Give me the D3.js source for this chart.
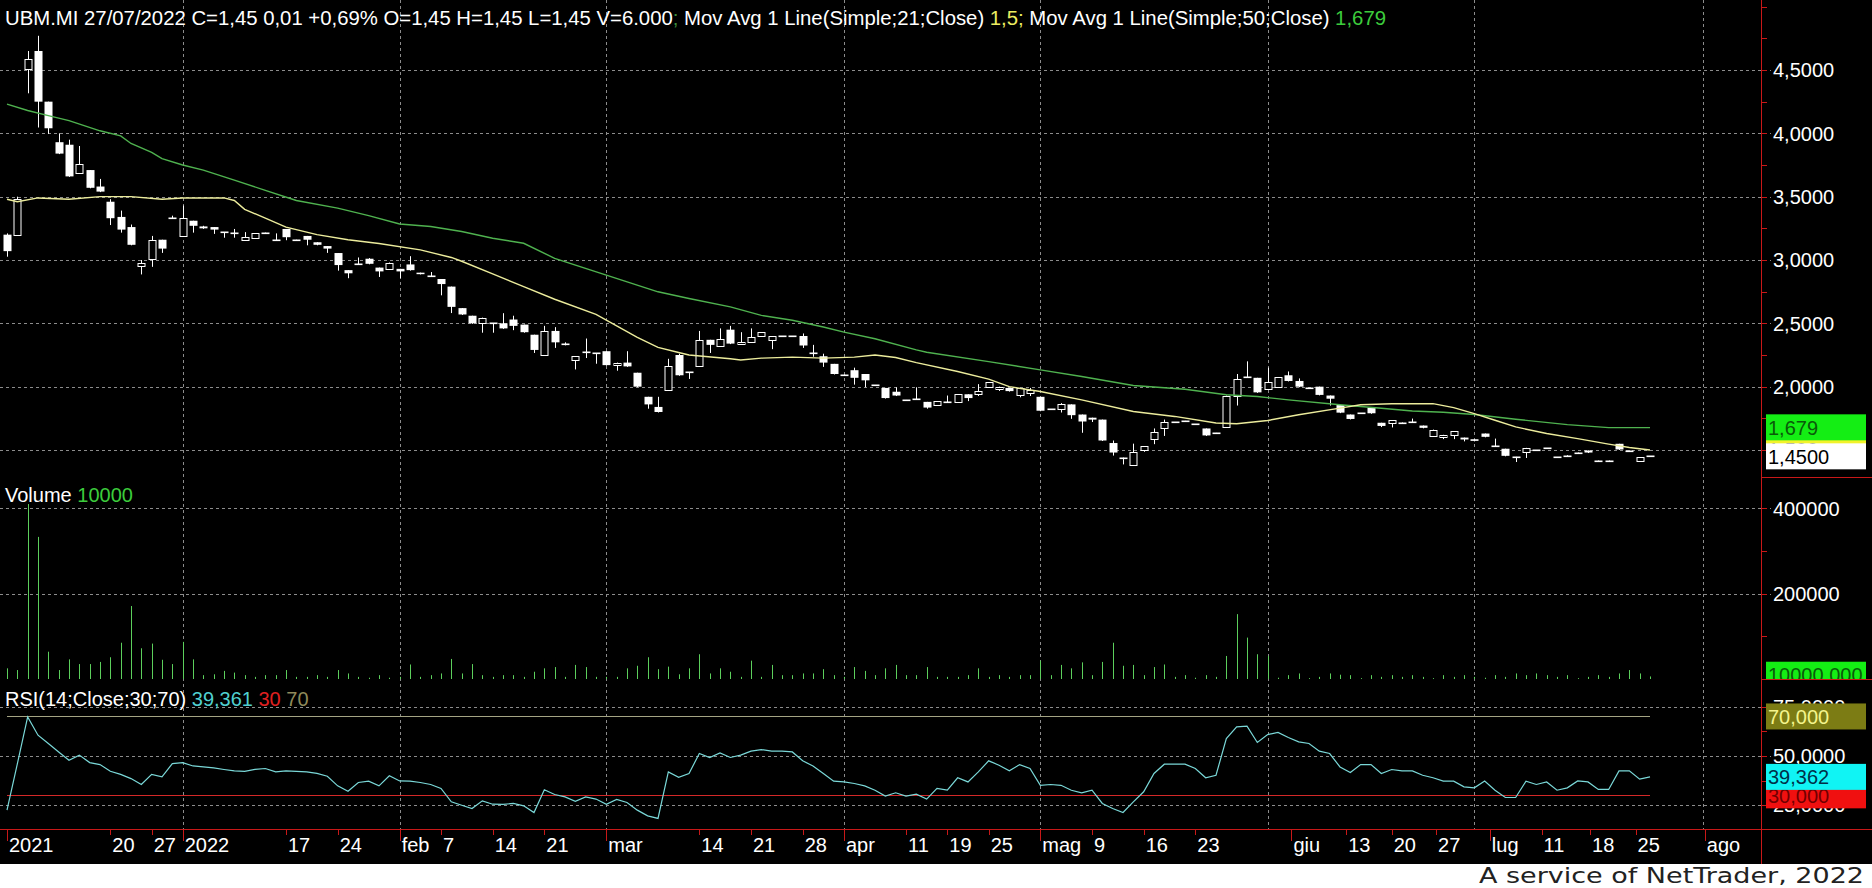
<!DOCTYPE html>
<html><head><meta charset="utf-8">
<script src="https://cdn.jsdelivr.net/npm/d3@7"></script>
<style>
html,body{margin:0;padding:0;background:#000;overflow:hidden}
svg{display:block}
text{font-family:"Liberation Sans",Arial,sans-serif;font-size:20px}
</style></head><body>
<svg id="c" width="1872" height="888"></svg>
<script>
// ---- data ----
const opens  = [3.20,3.20,4.51,4.65,4.25,3.93,3.91,3.69,3.71,3.58,3.46,3.34,3.26,2.95,3.01,3.16,3.33,3.19,3.31,3.265,3.26,3.22,3.21,3.16,3.17,3.21,3.16,3.245,3.16,3.19,3.14,3.11,3.055,2.92,2.965,3.01,2.94,2.93,2.93,2.965,2.90,2.87,2.85,2.79,2.62,2.56,2.50,2.50,2.50,2.53,2.49,2.41,2.25,2.44,2.335,2.21,2.27,2.265,2.28,2.17,2.19,2.11,1.92,1.84,1.97,2.25,2.115,2.16,2.37,2.32,2.45,2.34,2.35,2.40,2.365,2.40,2.40,2.40,2.265,2.24,2.18,2.095,2.13,2.10,2.01,1.99,1.96,1.895,1.905,1.88,1.855,1.88,1.88,1.94,1.945,2.00,1.985,1.99,1.935,1.95,1.92,1.82,1.825,1.86,1.78,1.755,1.74,1.555,1.44,1.38,1.50,1.59,1.67,1.72,1.73,1.705,1.67,1.635,1.68,1.93,2.08,2.07,1.985,2.00,2.09,2.045,1.99,2.00,1.93,1.855,1.78,1.79,1.835,1.715,1.717,1.717,1.722,1.693,1.612,1.60,1.62,1.598,1.585,1.63,1.53,1.51,1.446,1.483,1.499,1.514,1.443,1.449,1.48,1.496,1.417,1.417,1.549,1.496,1.412,1.45];
const highs  = [3.21,3.50,4.65,4.77,4.25,4.00,3.95,3.90,3.71,3.64,3.48,3.39,3.28,3.00,3.19,3.16,3.35,3.43,3.31,3.27,3.26,3.22,3.245,3.22,3.21,3.216,3.21,3.245,3.16,3.19,3.14,3.11,3.055,2.92,3.02,3.015,2.94,2.98,2.93,3.03,2.90,2.905,2.85,2.79,2.62,2.56,2.545,2.50,2.58,2.56,2.49,2.41,2.48,2.47,2.35,2.24,2.38,2.265,2.28,2.19,2.28,2.11,1.92,1.92,2.22,2.26,2.115,2.44,2.37,2.46,2.48,2.43,2.46,2.43,2.40,2.40,2.40,2.42,2.33,2.26,2.18,2.095,2.15,2.10,2.01,1.99,1.995,1.895,1.995,1.88,1.886,1.93,1.94,1.94,2.02,2.035,2.00,1.99,1.99,1.99,1.92,1.82,1.87,1.86,1.78,1.755,1.74,1.575,1.44,1.55,1.53,1.67,1.74,1.72,1.73,1.705,1.67,1.635,1.93,2.10,2.20,2.07,2.15,2.075,2.12,2.065,1.99,2.00,1.93,1.855,1.78,1.79,1.835,1.715,1.735,1.717,1.748,1.693,1.661,1.62,1.65,1.598,1.585,1.63,1.59,1.51,1.446,1.517,1.499,1.514,1.443,1.459,1.48,1.496,1.417,1.417,1.549,1.496,1.441,1.45];
const lows   = [3.03,3.20,4.32,4.05,4.00,3.84,3.66,3.69,3.57,3.54,3.28,3.22,3.12,2.89,2.95,3.06,3.33,3.19,3.22,3.25,3.21,3.18,3.18,3.16,3.17,3.21,3.16,3.16,3.16,3.12,3.12,3.06,2.92,2.86,2.965,2.97,2.87,2.93,2.86,2.92,2.89,2.87,2.725,2.585,2.57,2.50,2.43,2.43,2.46,2.45,2.43,2.27,2.25,2.31,2.33,2.14,2.23,2.185,2.17,2.13,2.16,2.00,1.83,1.80,1.97,2.09,2.065,2.16,2.27,2.32,2.34,2.34,2.35,2.40,2.30,2.40,2.40,2.31,2.24,2.16,2.10,2.095,2.02,2.00,2.01,1.91,1.93,1.895,1.905,1.83,1.855,1.88,1.88,1.89,1.93,2.00,1.97,1.965,1.92,1.93,1.81,1.82,1.80,1.75,1.64,1.725,1.575,1.46,1.39,1.38,1.49,1.55,1.615,1.72,1.73,1.705,1.615,1.635,1.68,1.855,2.08,1.955,1.985,2.00,2.045,2.00,1.99,1.935,1.855,1.795,1.745,1.79,1.79,1.685,1.682,1.717,1.722,1.675,1.612,1.59,1.59,1.572,1.572,1.604,1.53,1.454,1.409,1.441,1.499,1.514,1.443,1.449,1.48,1.48,1.417,1.417,1.504,1.496,1.412,1.45];
const closes = [3.07,3.48,4.59,4.25,4.04,3.84,3.66,3.76,3.57,3.54,3.33,3.24,3.12,2.98,3.16,3.09,3.33,3.33,3.27,3.25,3.24,3.22,3.21,3.18,3.21,3.21,3.16,3.18,3.16,3.16,3.12,3.09,2.96,2.895,2.965,2.97,2.91,2.98,2.91,2.92,2.89,2.87,2.81,2.63,2.57,2.50,2.545,2.50,2.46,2.48,2.43,2.29,2.44,2.35,2.335,2.24,2.27,2.265,2.17,2.19,2.16,2.00,1.86,1.80,2.16,2.09,2.115,2.37,2.33,2.38,2.34,2.355,2.39,2.43,2.40,2.40,2.40,2.325,2.265,2.19,2.10,2.095,2.07,2.05,2.01,1.91,1.93,1.895,1.905,1.835,1.886,1.88,1.94,1.91,1.965,2.035,2.00,1.965,1.99,1.97,1.81,1.82,1.86,1.775,1.725,1.74,1.575,1.48,1.44,1.485,1.53,1.64,1.72,1.72,1.73,1.705,1.615,1.635,1.93,2.06,2.08,1.955,2.035,2.075,2.045,2.00,1.99,1.935,1.905,1.795,1.745,1.79,1.79,1.69,1.735,1.717,1.722,1.675,1.661,1.62,1.65,1.583,1.572,1.604,1.53,1.454,1.446,1.517,1.499,1.514,1.443,1.449,1.48,1.48,1.417,1.417,1.504,1.496,1.441,1.45];
const volumes = [25000,21000,410000,333000,64000,21000,46000,35000,35000,40000,51000,85000,171000,72000,83000,45000,35000,87000,46000,9000,11000,19000,15000,9000,5000,9000,9000,21000,5000,5000,9000,5000,21000,13000,5000,3000,9000,3000,5000,34000,5000,9000,13000,47000,13000,35000,9000,5000,9000,9000,5000,17000,25000,28000,5000,33000,28000,5000,5000,5000,25000,31000,51000,23000,29000,11000,25000,58000,13000,25000,17000,5000,43000,5000,33000,9000,9000,13000,13000,23000,9000,5000,28000,19000,9000,25000,33000,9000,9000,28000,5000,5000,5000,9000,25000,5000,9000,5000,9000,9000,43000,9000,33000,25000,39000,9000,40000,85000,31000,33000,9000,28000,34000,5000,9000,3000,9000,5000,54000,152000,97000,58000,54000,3000,9000,13000,2000,5000,13000,10000,9000,2000,9000,5000,9000,5000,9000,5000,2000,9000,5000,9000,5000,3000,9000,5000,13000,9000,13000,9000,5000,9000,2000,5000,9000,5000,13000,21000,13000,6000];
const rsiValues = [22.5,46,69.8,60.5,56.3,52,47.8,50.4,46.6,45.6,42.2,40.6,38.5,35.5,40.6,39.4,46.1,46.6,44.9,44.4,43.9,43.1,42.4,42.2,43.2,43.6,41.9,42.4,42.2,41.9,41.1,39.7,34.8,32.1,36.5,37.2,34.8,39.9,37.3,37.2,36.5,35.5,33.5,26.7,25,23.3,27.2,25.5,25.4,25.9,24.7,21.3,32.8,30.4,29.2,27,29.2,28.1,25.5,27.9,26.4,22.5,19.6,18.3,41.9,39.1,41.1,51.2,49.2,51.5,49.2,50.4,52.4,53.2,52.4,52.4,52,47.5,44.9,41.1,37.2,36.8,36,34.8,32.6,29.6,31.3,29.6,30.6,28.1,33.5,32.6,38.9,36.8,41.9,47.5,45.3,42.4,45.6,43.6,35.1,35.5,35.1,32.6,31.3,32.6,25.9,23.3,21.3,26.7,31.8,41.1,45.8,45.8,45.8,43.6,38.9,40.2,58.8,64.7,65.1,56.8,60.8,61.9,59.3,57.1,56.3,52.4,51.2,44.4,41.6,45.6,45.6,41.1,43.1,42.4,42.4,40.2,38.9,37.2,37.2,34.3,33.8,37.3,32.6,28.9,28.9,37.2,35.5,36.8,32.6,33.8,37.3,36.8,33,33,42.4,42.4,38.2,39.36];
const ma21Points = [[0,3.48],[1,3.46],[3,3.49],[6,3.48],[9,3.50],[12,3.50],[15,3.48],[17,3.49],[21,3.49],[22,3.47],[23,3.40],[25,3.33],[27,3.26],[30,3.20],[33,3.16],[36,3.13],[40,3.08],[43,3.02],[44,2.99],[47,2.89],[50,2.79],[53,2.69],[57,2.57],[59,2.48],[61,2.39],[63,2.31],[65,2.27],[66,2.25],[70,2.22],[71,2.21],[73,2.225],[76,2.233],[79,2.225],[82,2.233],[84,2.25],[86,2.23],[88,2.19],[92,2.12],[95,2.06],[97,2.00],[100,1.962],[104,1.896],[109,1.804],[113,1.765],[117,1.713],[119,1.707],[122,1.733],[125,1.778],[129,1.831],[131,1.857],[134,1.865],[138,1.866],[140,1.835],[142,1.787],[144,1.735],[146,1.682],[149,1.63],[152,1.59],[155,1.546],[157,1.52],[159,1.50]];
const ma50Points = [[0,4.23],[2,4.18],[4,4.14],[6,4.10],[9,4.02],[11,3.98],[12,3.92],[14,3.85],[15,3.80],[17,3.75],[19,3.71],[22,3.63],[25,3.55],[28,3.47],[32,3.41],[35,3.35],[38,3.284],[41,3.264],[44,3.225],[47,3.172],[50,3.132],[53,3.013],[58,2.881],[63,2.749],[66,2.696],[70,2.63],[73,2.563],[76,2.524],[79,2.471],[81,2.431],[84,2.378],[88,2.29],[89,2.272],[95,2.198],[100,2.133],[104,2.08],[109,2.009],[114,1.98],[118,1.936],[121,1.922],[124,1.896],[129,1.857],[133,1.83],[136,1.808],[139,1.798],[142,1.78],[146,1.743],[151,1.70],[155,1.677],[159,1.677]];
const monthGridIdx = [17,38,58,81,100,122,142,164.1];
const dateTickIdx = [0,10,14,17,27,32,38,42,47,52,58,67,72,77,81,87,91,95,100,105,110,115,124.3,129.6,134,138.3,143.5,148.5,153.2,157.6,164.3];
const dateTickLabels = ["2021","20","27","2022","17","24","feb","7","14","21","mar","14","21","28","apr","11","19","25","mag","9","16","23","giu","13","20","27","lug","11","18","25","ago"];
const majorTickLabels = ["2021","2022","feb","mar","apr","mag","giu","lug","ago"];
const priceTicks = [1.5,2.0,2.5,3.0,3.5,4.0,4.5];
const volumeTicks = [200000,400000];
const rsiTicks = [25,50,75];
const rsiLevels = [30,70];

// ---- layout ----
const W = 1872, AXIS_X = 1761;
const svg = d3.select("#c");
const x = d3.scaleLinear().domain([0,159]).range([7,1650]);
const yP = d3.scaleLinear().domain([1.5,4.5]).range([450,70]);
const yV = d3.scaleLinear().domain([0,400000]).range([679,508.3]);
const yR = d3.scaleLinear().domain([25,75]).range([805.2,706.6]);
const fmt4 = v => d3.format(".4f")(v).replace(".",",");
const RED = "#c81818", GRID = "#8c8c8c";
const px = v => Math.round(v) + 0.5;

svg.append("rect").attr("width",W).attr("height",888).attr("fill","#000");

// grid
const g = svg.append("g");
g.selectAll(".vg").data(monthGridIdx).join("line")
  .attr("x1",d=>px(x(d))).attr("x2",d=>px(x(d))).attr("y1",0).attr("y2",829)
  .attr("stroke",GRID).attr("stroke-dasharray","3,3");
const hGrid = [...priceTicks.map(yP), ...volumeTicks.map(yV), ...rsiTicks.map(yR)];
g.selectAll(".hg").data(hGrid).join("line")
  .attr("x1",0).attr("x2",AXIS_X+10).attr("y1",d=>px(d)).attr("y2",d=>px(d))
  .attr("stroke",GRID).attr("stroke-dasharray","3,3");

// price panel
svg.append("clipPath").attr("id","cp").append("rect").attr("x",0).attr("y",0).attr("width",AXIS_X).attr("height",477);
const pg = svg.append("g").attr("clip-path","url(#cp)");
const idx = d3.range(opens.length);
pg.selectAll(".wick").data(idx).join("line")
  .attr("x1",i=>px(x(i))).attr("x2",i=>px(x(i)))
  .attr("y1",i=>yP(highs[i])).attr("y2",i=>yP(lows[i])+0.5)
  .attr("stroke","#fff").attr("stroke-width",1);
pg.selectAll(".body").data(idx).join("rect")
  .each(function(i){
    const o=yP(opens[i]), c=yP(closes[i]);
    const cx=Math.round(x(i));
    const s=d3.select(this);
    if (closes[i] > opens[i]) { // up: hollow
      s.attr("x",cx-3).attr("y",Math.round(c)+0.5).attr("width",7).attr("height",Math.max(1,Math.round(o)-Math.round(c)))
       .attr("fill","#000").attr("stroke","#fff").attr("stroke-width",1);
    } else if (closes[i] < opens[i]) { // down: filled
      s.attr("x",cx-3.5).attr("y",o).attr("width",8).attr("height",Math.max(1.5,c-o)).attr("fill","#fff");
    } else { // doji
      s.attr("x",cx-3.5).attr("y",Math.round(o)-0.5).attr("width",8).attr("height",1.6).attr("fill","#fff");
    }
  });
const maLine = d3.line().x(d=>x(d[0])).y(d=>yP(d[1])).curve(d3.curveLinear);
pg.append("path").attr("d",maLine(ma50Points)).attr("fill","none").attr("stroke","#4fb24f").attr("stroke-width",1.4);
pg.append("path").attr("d",maLine(ma21Points)).attr("fill","none").attr("stroke","#ecec9c").attr("stroke-width",1.4);

// volume
const vg = svg.append("g");
vg.selectAll("line").data(idx).join("line")
  .attr("x1",i=>px(x(i))).attr("x2",i=>px(x(i)))
  .attr("y1",679).attr("y2",i=>yV(volumes[i]))
  .attr("stroke","#5ccf5c").attr("stroke-width",1);

// RSI
const rg = svg.append("g");
rg.selectAll(".lvl").data(rsiLevels).join("line")
  .attr("x1",x(0)).attr("x2",x(159)).attr("y1",d=>px(yR(d))).attr("y2",d=>px(yR(d)))
  .attr("stroke",d=>d===70?"#a4a483":"#d42828").attr("stroke-width",1.2);
rg.append("path").datum(rsiValues)
  .attr("d",d3.line().x((d,i)=>x(i)).y(d=>yR(d)))
  .attr("fill","none").attr("stroke","#7ad8d8").attr("stroke-width",1.2);

// legends
const t = svg.append("text").attr("x",5).attr("y",25).attr("fill","#fff")
  .attr("textLength",1381).attr("lengthAdjust","spacingAndGlyphs");
[["UBM.MI 27/07/2022 C=1,45 0,01 +0,69% O=1,45 H=1,45 L=1,45 V=6.000","#fff"],["; ","#3c8c3c"],
 ["Mov Avg 1 Line(Simple;21;Close) ","#fff"],["1,5; ","#ecec60"],["Mov Avg 1 Line(Simple;50;Close) ","#fff"],["1,679","#3ccc3c"]]
 .forEach(([s,c])=>t.append("tspan").text(s).attr("fill",c).attr("xml:space","preserve"));
const tv = svg.append("text").attr("x",5).attr("y",502);
tv.append("tspan").text("Volume ").attr("fill","#fff");
tv.append("tspan").text("10000").attr("fill","#3ccc3c");
const tr = svg.append("text").attr("x",5).attr("y",706);
[["RSI(14;Close;30;70) ","#fff"],["39,361 ","#50d0d0"],["30 ","#e02020"],["70","#8f8a5a"]]
 .forEach(([s,c])=>tr.append("tspan").text(s).attr("fill",c));

// date axis
svg.append("line").attr("x1",0).attr("x2",W).attr("y1",829.5).attr("y2",829.5).attr("stroke",RED);
const dax = svg.append("g");
dax.selectAll("line").data(dateTickIdx).join("line")
  .attr("x1",d=>px(x(d))).attr("x2",d=>px(x(d))).attr("y1",829)
  .attr("y2",(d,i)=>majorTickLabels.includes(dateTickLabels[i])?841:835).attr("stroke",RED);
dax.selectAll("text").data(dateTickIdx).join("text")
  .attr("x",d=>x(d)+2).attr("y",852).attr("fill","#fff").text((d,i)=>dateTickLabels[i]);

// right axis
svg.append("line").attr("x1",AXIS_X+0.5).attr("x2",AXIS_X+0.5).attr("y1",0).attr("y2",864).attr("stroke",RED);
[477,679].forEach(y=>svg.append("line").attr("x1",AXIS_X).attr("x2",W).attr("y1",y+0.5).attr("y2",y+0.5).attr("stroke",RED));
const minorP = d3.range(1.5,5.01,0.25), minorV = d3.range(100000,400001,100000), minorR = d3.range(25,75.1,12.5);
svg.selectAll(".mt").data([...minorP.map(yP).filter(y=>y>2&&y<477), ...minorV.map(yV), ...minorR.map(yR)]).join("line")
  .attr("x1",AXIS_X).attr("x2",AXIS_X+6).attr("y1",d=>px(d)).attr("y2",d=>px(d)).attr("stroke",RED);
const ax = svg.append("g").attr("fill","#fff");
ax.selectAll(".pl").data(priceTicks).join("text").attr("x",1773).attr("y",d=>yP(d)).attr("dy","0.36em").text(fmt4);
ax.selectAll(".vl").data(volumeTicks).join("text").attr("x",1773).attr("y",d=>yV(d)).attr("dy","0.36em").text(d=>d3.format("d")(d));
ax.selectAll(".rl").data(rsiTicks).join("text").attr("x",1773).attr("y",d=>yR(d)).attr("dy","0.36em").text(fmt4);

// value boxes
function box(y, bg, fg, label, clipBottom){
  const gg = svg.append("g");
  if (clipBottom){
    const id="cb"+Math.round(y);
    svg.append("clipPath").attr("id",id).append("rect").attr("x",1766).attr("y",0).attr("width",100).attr("height",clipBottom);
    gg.attr("clip-path",`url(#${id})`);
  }
  gg.append("rect").attr("x",1766).attr("y",y-13).attr("width",100).attr("height",26).attr("fill",bg);
  gg.append("text").attr("x",1768).attr("y",y).attr("dy","0.36em").attr("fill",fg).text(label);
}
box(yP(1.5),"#f2f22a","#333300","1,500");
box(yP(1.679),"#14ee14","#0a5a0a","1,679");
box(yP(1.45),"#ffffff","#000000","1,4500");
box(yV(10000),"#14ee14","#0a5a0a","10000,000",679);
box(yR(70),"#7c7c14","#f4f48c","70,000");
box(yR(30),"#f01010","#700000","30,000");
box(yR(39.362),"#10f4f4","#003048","39,362");

// footer
svg.append("rect").attr("x",0).attr("y",864).attr("width",W).attr("height",24).attr("fill","#fff");
svg.append("text").attr("x",1479).attr("y",883).attr("fill","#222")
  .style("font-family","'DejaVu Sans',Verdana,sans-serif").style("font-size","21px")
  .attr("textLength",385).attr("lengthAdjust","spacingAndGlyphs")
  .text("A service of NetTrader, 2022");
</script>
</body></html>
